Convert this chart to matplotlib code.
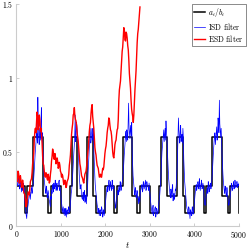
import numpy as np
import matplotlib
matplotlib.use('Agg')
import matplotlib.pyplot as plt

plt.rcParams['mathtext.fontset'] = 'cm'
plt.rcParams['font.family'] = 'serif'
plt.rcParams['font.serif'] = ['DejaVu Serif']

# true ratio a_t/b_t (piecewise constant)
step_t = [0, 190, 245, 380, 590, 710, 770, 990, 1210, 1255, 1370, 1594, 1729, 1790,
          1990, 2200, 2250, 2385, 2600, 2710, 2765, 2990, 3200, 3240, 3380, 3600,
          3750, 3790, 3995, 4205, 4250, 4390, 4617, 4745, 4800, 4990, 5000]
step_v = [0.27, 0.09, 0.27, 0.60, 0.20, 0.09, 0.27, 0.09, 0.27, 0.60, 0.20, 0.60,
          0.20, 0.09, 0.27, 0.09, 0.27, 0.60, 0.20, 0.09, 0.27, 0.09, 0.27, 0.60,
          0.20, 0.60, 0.20, 0.09, 0.27, 0.09, 0.27, 0.60, 0.20, 0.09, 0.27, 0.09]

# ISD filter estimate at t = 0, 20, 40, ...
isd_even = [0.40, 0.33, 0.29, 0.31, 0.26, 0.30, 0.27, 0.24, 0.29, 0.25,
            0.12, 0.07, 0.10, 0.14, 0.19, 0.23, 0.21, 0.26, 0.24, 0.29,
            0.38, 0.49, 0.57, 0.62, 0.87, 0.60, 0.66, 0.58, 0.80, 0.63,
            0.46, 0.33, 0.27, 0.22, 0.25, 0.21, 0.22, 0.17, 0.13, 0.18,
            0.22, 0.26, 0.29, 0.25, 0.30, 0.27, 0.24, 0.28, 0.31, 0.26,
            0.20, 0.14, 0.11, 0.08, 0.12, 0.09, 0.06, 0.11, 0.08, 0.12,
            0.10, 0.19, 0.24, 0.33, 0.45, 0.55, 0.75, 0.60, 0.67, 0.58,
            0.42, 0.30, 0.26, 0.22, 0.18, 0.23, 0.20, 0.16, 0.21, 0.19,
            0.28, 0.42, 0.55, 0.62, 0.58, 0.66, 0.61, 0.50, 0.34, 0.24,
            0.18, 0.13, 0.10, 0.07, 0.11, 0.09, 0.12, 0.06, 0.10, 0.09,
            0.16, 0.22, 0.27, 0.25, 0.31, 0.26, 0.28, 0.24, 0.29, 0.27,
            0.20, 0.14, 0.16, 0.20, 0.24, 0.27, 0.23, 0.28, 0.26, 0.30,
            0.36, 0.47, 0.56, 0.60, 0.65, 0.58, 0.83, 0.62, 0.68, 0.61,
            0.50, 0.34, 0.27, 0.21, 0.24, 0.20, 0.22, 0.15, 0.18, 0.21,
            0.25, 0.28, 0.24, 0.29, 0.27, 0.31, 0.25, 0.28, 0.26, 0.29,
            0.21, 0.15, 0.10, 0.12, 0.07, 0.10, 0.13, 0.08, 0.11, 0.09,
            0.16, 0.21, 0.30, 0.44, 0.54, 0.61, 0.57, 0.66, 0.71, 0.60,
            0.45, 0.32, 0.25, 0.19, 0.23, 0.26, 0.17, 0.22, 0.20, 0.24,
            0.33, 0.48, 0.73, 0.59, 0.64, 0.57, 0.62, 0.66, 0.45, 0.30,
            0.22, 0.15, 0.11, 0.08, 0.12, 0.05, 0.10, 0.07, 0.12, 0.09,
            0.17, 0.23, 0.28, 0.26, 0.30, 0.25, 0.29, 0.27, 0.31, 0.26,
            0.27, 0.18, 0.14, 0.19, 0.24, 0.22, 0.27, 0.25, 0.29, 0.27,
            0.35, 0.46, 0.57, 0.63, 0.59, 0.67, 0.61, 0.70, 0.85, 0.64,
            0.66, 0.48, 0.35, 0.27, 0.22, 0.25, 0.20, 0.23, 0.17, 0.15,
            0.19, 0.24, 0.27, 0.25, 0.30, 0.26, 0.29, 0.27, 0.30, 0.28,
            0.29]

# ISD filter estimate at t = 10, 30, 50, ...
isd_odd = [0.35, 0.27, 0.33, 0.25, 0.31, 0.23, 0.30, 0.27, 0.22, 0.16,
           0.09, 0.05, 0.12, 0.17, 0.22, 0.18, 0.25, 0.22, 0.28, 0.33,
           0.44, 0.53, 0.64, 0.56, 0.70, 0.55, 0.62, 0.71, 0.59, 0.55,
           0.39, 0.29, 0.24, 0.27, 0.19, 0.24, 0.18, 0.15, 0.20, 0.24,
           0.28, 0.23, 0.26, 0.31, 0.24, 0.29, 0.26, 0.30, 0.24, 0.24,
           0.16, 0.09, 0.13, 0.10, 0.07, 0.12, 0.10, 0.08, 0.13, 0.09,
           0.14, 0.22, 0.28, 0.39, 0.50, 0.63, 0.57, 0.70, 0.62, 0.50,
           0.35, 0.25, 0.28, 0.19, 0.21, 0.17, 0.24, 0.19, 0.15, 0.22,
           0.36, 0.49, 0.66, 0.56, 0.63, 0.58, 0.68, 0.42, 0.28, 0.21,
           0.15, 0.09, 0.12, 0.10, 0.07, 0.13, 0.08, 0.11, 0.07, 0.12,
           0.19, 0.25, 0.23, 0.29, 0.24, 0.30, 0.25, 0.31, 0.25, 0.23,
           0.17, 0.12, 0.18, 0.23, 0.21, 0.25, 0.30, 0.24, 0.29, 0.33,
           0.42, 0.51, 0.64, 0.57, 0.62, 0.72, 0.66, 0.59, 0.64, 0.70,
           0.41, 0.30, 0.23, 0.26, 0.19, 0.24, 0.18, 0.20, 0.16, 0.24,
           0.27, 0.23, 0.30, 0.25, 0.29, 0.24, 0.30, 0.27, 0.24, 0.25,
           0.18, 0.12, 0.08, 0.14, 0.09, 0.12, 0.06, 0.12, 0.08, 0.11,
           0.18, 0.25, 0.37, 0.50, 0.58, 0.65, 0.62, 0.58, 0.64, 0.52,
           0.38, 0.28, 0.21, 0.25, 0.19, 0.28, 0.21, 0.18, 0.25, 0.27,
           0.40, 0.60, 0.65, 0.56, 0.68, 0.60, 0.56, 0.60, 0.37, 0.26,
           0.18, 0.12, 0.09, 0.13, 0.08, 0.11, 0.07, 0.13, 0.08, 0.13,
           0.20, 0.26, 0.24, 0.29, 0.27, 0.32, 0.24, 0.28, 0.25, 0.29,
           0.22, 0.15, 0.17, 0.22, 0.26, 0.30, 0.23, 0.28, 0.25, 0.31,
           0.41, 0.52, 0.61, 0.55, 0.64, 0.58, 0.73, 0.63, 0.69, 0.60,
           0.58, 0.41, 0.30, 0.24, 0.27, 0.21, 0.26, 0.19, 0.14, 0.17,
           0.22, 0.29, 0.24, 0.28, 0.25, 0.31, 0.26, 0.30, 0.26, 0.27]

# ESD filter estimate at t = 0, 25, 50, ... until it blows up
esd_even = [0.37, 0.33, 0.35, 0.30, 0.31, 0.27, 0.28, 0.22, 0.18, 0.14,
            0.19, 0.22, 0.26, 0.31, 0.36, 0.45, 0.58, 0.66, 0.70, 0.74,
            0.68, 0.72, 0.66, 0.56, 0.42, 0.37, 0.33, 0.35, 0.31, 0.33,
            0.30, 0.38, 0.47, 0.50, 0.45, 0.47, 0.43, 0.44, 0.40, 0.41,
            0.36, 0.35, 0.31, 0.29, 0.30, 0.27, 0.31, 0.35, 0.44, 0.55,
            0.66, 0.75, 0.80, 0.72, 0.68, 0.60, 0.52, 0.42, 0.37, 0.33,
            0.30, 0.32, 0.36, 0.40, 0.48, 0.58, 0.68, 0.76, 0.82, 0.70,
            0.60, 0.50, 0.44, 0.40, 0.36, 0.34, 0.33, 0.36, 0.38, 0.45,
            0.52, 0.58, 0.66, 0.73, 0.68, 0.64, 0.55, 0.47, 0.50, 0.57,
            0.62, 0.66, 0.85, 0.95, 1.05, 1.18, 1.28, 1.32, 1.25, 1.30,
            1.22, 1.12, 0.98, 0.85, 0.76, 0.70, 0.84, 0.98, 1.15, 1.30,
            1.38, 1.48]

# ESD filter estimate at t = 12.5, 37.5, ...
esd_odd = [0.30, 0.37, 0.29, 0.34, 0.26, 0.31, 0.23, 0.21, 0.13, 0.18,
           0.23, 0.21, 0.30, 0.32, 0.42, 0.49, 0.64, 0.63, 0.77, 0.65,
           0.75, 0.64, 0.62, 0.47, 0.41, 0.34, 0.36, 0.32, 0.35, 0.29,
           0.35, 0.44, 0.52, 0.46, 0.49, 0.42, 0.46, 0.39, 0.43, 0.37,
           0.33, 0.34, 0.28, 0.31, 0.26, 0.30, 0.32, 0.41, 0.48, 0.62,
           0.69, 0.76, 0.74, 0.71, 0.63, 0.57, 0.46, 0.40, 0.34, 0.32,
           0.29, 0.35, 0.37, 0.45, 0.52, 0.64, 0.70, 0.80, 0.74, 0.66,
           0.53, 0.48, 0.41, 0.39, 0.33, 0.35, 0.33, 0.39, 0.40, 0.49,
           0.54, 0.63, 0.68, 0.72, 0.65, 0.61, 0.50, 0.46, 0.55, 0.58,
           0.65, 0.72, 0.92, 0.98, 1.13, 1.21, 1.34, 1.26, 1.31, 1.27,
           1.19, 1.03, 0.93, 0.79, 0.74, 0.75, 0.92, 1.05, 1.24, 1.33,
           1.44]

# merge the two samplings of each filter into one series
isd_t = np.arange(0, 5001, 10)
isd_v = np.empty(len(isd_t))
isd_v[0::2] = isd_even
isd_v[1::2] = isd_odd

esd_t = np.arange(len(esd_even) + len(esd_odd)) * 12.5
esd_v = np.empty(len(esd_t))
esd_v[0::2] = esd_even
esd_v[1::2] = esd_odd

fig = plt.figure(figsize=(2.48, 2.5), dpi=100)
ax = fig.add_axes([0.0665, 0.096, 0.897, 0.888])

ax.step(step_t, step_v + [step_v[-1]], where='post', color='black', lw=1.1,
        label=r'$a_t/b_t$')
ax.plot(isd_t, isd_v, color='blue', lw=0.5, label=r'$\mathrm{ISD\ filter}$')
ax.plot(esd_t, esd_v, color='red', lw=1.0, label=r'$\mathrm{ESD\ filter}$')

ax.set_xlim(0, 5000)
ax.set_ylim(0, 1.5)
ax.set_xticks([0, 1000, 2000, 3000, 4000, 5000])
ax.set_xticklabels([r'$0$', r'$1000$', r'$2000$', r'$3000$', r'$4000$', r'$5000$'])
ax.set_yticks([0, 0.5, 1, 1.5])
ax.set_yticklabels([r'$0$', r'$0.5$', r'$1$', r'$1.5$'])
ax.tick_params(direction='in', length=2, width=0.5, color='#bbbbbb',
               labelsize=5.5, pad=2)
ax.set_xlabel(r'$t$', fontsize=6.5, labelpad=0)

for s in ['top', 'right']:
    ax.spines[s].set_visible(False)
for s in ['left', 'bottom']:
    ax.spines[s].set_color('#cccccc')
    ax.spines[s].set_linewidth(0.8)

leg = ax.legend(loc='upper right', bbox_to_anchor=(0.99, 0.985),
                bbox_transform=fig.transFigure, fontsize=5.5, frameon=True,
                fancybox=False, handlelength=1.4, handletextpad=0.4,
                borderpad=0.3, labelspacing=0.2, borderaxespad=0)
leg.get_frame().set_edgecolor('black')
leg.get_frame().set_linewidth(0.4)

fig.savefig('out.png', dpi=100)
